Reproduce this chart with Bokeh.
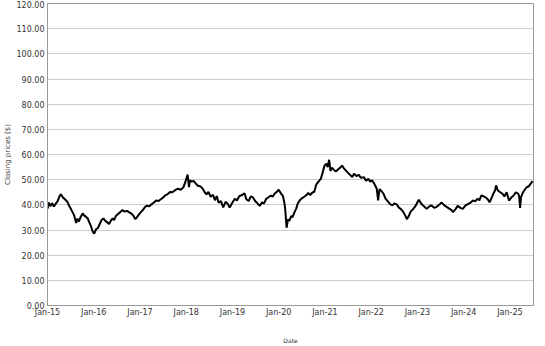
from bokeh.plotting import figure
from bokeh.models import Range1d, FixedTicker, NumeralTickFormatter
from bokeh.embed import file_html
from bokeh.resources import INLINE

# Date as decimal year, closing price ($)
years = [
    2015.00, 2015.03, 2015.06, 2015.10, 2015.14, 2015.18, 2015.22, 2015.26, 2015.29, 2015.33,
    2015.37, 2015.43, 2015.47, 2015.51, 2015.55, 2015.58, 2015.62, 2015.65, 2015.68, 2015.72,
    2015.76, 2015.79, 2015.83, 2015.87, 2015.90, 2015.94, 2015.98, 2016.01, 2016.05, 2016.09,
    2016.13, 2016.17, 2016.21, 2016.25, 2016.29, 2016.33, 2016.37, 2016.41, 2016.44, 2016.48,
    2016.52, 2016.57, 2016.62, 2016.67, 2016.72, 2016.77, 2016.82, 2016.86, 2016.90, 2016.94,
    2016.98, 2017.02, 2017.06, 2017.10, 2017.15, 2017.20, 2017.25, 2017.30, 2017.35, 2017.40,
    2017.45, 2017.50, 2017.55, 2017.60, 2017.65, 2017.70, 2017.76, 2017.82, 2017.88, 2017.94,
    2017.98, 2018.03, 2018.06, 2018.08, 2018.12, 2018.16, 2018.19, 2018.24, 2018.30, 2018.35,
    2018.40, 2018.44, 2018.48, 2018.53, 2018.58, 2018.62, 2018.66, 2018.70, 2018.75, 2018.80,
    2018.85, 2018.90, 2018.94, 2018.99, 2019.05, 2019.10, 2019.15, 2019.21, 2019.26, 2019.30,
    2019.35, 2019.40, 2019.44, 2019.49, 2019.54, 2019.59, 2019.64, 2019.68, 2019.73, 2019.78,
    2019.83, 2019.87, 2019.91, 2019.96, 2020.00, 2020.05, 2020.09, 2020.12, 2020.14, 2020.17,
    2020.20, 2020.23, 2020.27, 2020.30, 2020.34, 2020.38, 2020.41, 2020.46, 2020.50, 2020.55,
    2020.59, 2020.64, 2020.68, 2020.73, 2020.77, 2020.81, 2020.86, 2020.91, 2020.95, 2020.99,
    2021.03, 2021.06, 2021.09, 2021.12, 2021.15, 2021.19, 2021.23, 2021.27, 2021.32, 2021.37,
    2021.41, 2021.46, 2021.50, 2021.55, 2021.59, 2021.63, 2021.68, 2021.73, 2021.78, 2021.84,
    2021.89, 2021.94, 2021.98, 2022.02, 2022.07, 2022.12, 2022.15, 2022.18, 2022.23, 2022.27,
    2022.31, 2022.36, 2022.41, 2022.46, 2022.50, 2022.55, 2022.60, 2022.65, 2022.70, 2022.74,
    2022.77, 2022.81, 2022.85, 2022.91, 2022.96, 2023.03, 2023.08, 2023.13, 2023.20, 2023.25,
    2023.30, 2023.36, 2023.41, 2023.47, 2023.52, 2023.58, 2023.63, 2023.68, 2023.73, 2023.77,
    2023.82, 2023.87, 2023.93, 2023.98, 2024.04, 2024.10, 2024.15, 2024.20, 2024.25, 2024.30,
    2024.34, 2024.38, 2024.43, 2024.47, 2024.52, 2024.56, 2024.60, 2024.64, 2024.68, 2024.70,
    2024.74, 2024.79, 2024.84, 2024.88, 2024.93, 2024.98, 2025.03, 2025.08, 2025.13, 2025.18,
    2025.20, 2025.22, 2025.24, 2025.28, 2025.31, 2025.36, 2025.41, 2025.45, 2025.49,
]
prices = [
    38.4, 40.9, 39.5, 40.6, 39.3, 40.5, 41.5, 43.5, 44.2, 43.0,
    42.3, 41.2, 39.5, 38.2, 36.8, 35.6, 32.8, 34.5, 33.4, 35.3,
    36.6, 35.8, 35.3, 34.6, 33.2, 31.5, 29.3, 28.6, 30.3, 30.8,
    32.4, 34.0, 34.6, 33.6, 33.1, 32.4, 33.7, 34.6, 33.9, 35.6,
    36.3, 37.1, 37.9, 37.3, 37.6, 37.0, 36.4, 35.6, 34.3, 35.2,
    36.2, 37.1, 37.9, 38.9, 39.7, 39.4, 40.2, 40.9, 41.7, 41.5,
    42.2, 42.9, 43.8, 44.3, 45.1, 45.0, 45.8, 46.4, 46.0, 47.0,
    49.0, 52.0, 47.0, 49.8, 49.2, 49.5, 48.8, 47.7, 47.4, 46.6,
    45.0, 44.2, 45.1, 43.2, 44.0, 41.8, 43.5, 40.8, 41.5, 39.0,
    41.2, 40.3, 38.9, 40.6, 42.4, 41.8, 43.5, 43.9, 44.6, 42.2,
    41.5, 43.4, 43.0, 41.5, 40.6, 39.6, 41.0, 40.5, 42.4, 43.0,
    43.7, 43.2, 44.4, 45.2, 46.0, 44.5, 43.6, 41.0, 38.5, 30.9,
    34.2, 33.6, 35.5, 35.1, 37.0, 38.6, 40.4, 41.9, 42.6, 43.2,
    43.7, 44.7, 43.9, 44.9, 45.2, 48.0, 49.2, 50.3, 52.8, 55.5,
    56.4, 55.0, 57.9, 53.5, 54.8, 54.0, 53.3, 53.8, 54.6, 55.6,
    54.5, 53.5, 52.7, 51.8, 51.0, 52.4, 51.4, 51.9, 50.7, 51.0,
    49.6, 50.4, 49.2, 49.8, 48.3, 46.4, 41.8, 46.2, 45.3, 44.3,
    42.5, 41.4, 40.3, 39.8, 40.6, 40.2, 38.9, 38.2, 37.0, 35.6,
    34.3, 35.4, 37.2, 38.4, 39.6, 42.0, 40.5, 39.6, 38.4, 39.3,
    39.8, 38.8, 39.1, 40.0, 41.0, 39.8, 39.2, 38.6, 38.0, 37.1,
    38.2, 39.6, 38.8, 38.4, 39.8, 40.4, 40.9, 41.7, 41.4, 42.4,
    41.8, 43.7, 43.4, 43.0, 42.2, 41.0, 42.6, 44.4, 45.8, 47.7,
    45.7, 45.0, 44.4, 43.3, 45.0, 41.7, 42.9, 43.7, 45.0, 44.4,
    43.5, 38.8, 43.0, 44.9, 45.7, 47.0, 47.4, 48.4, 49.4,
]

tick_years = [2015, 2016, 2017, 2018, 2019, 2020, 2021, 2022, 2023, 2024, 2025]
tick_labels = ["Jan-15", "Jan-16", "Jan-17", "Jan-18", "Jan-19", "Jan-20",
               "Jan-21", "Jan-22", "Jan-23", "Jan-24", "Jan-25"]
y_ticks = [0, 10, 20, 30, 40, 50, 60, 70, 80, 90, 100, 110, 120]

FONT = "DejaVu Sans"

p = figure(width=545, height=346, output_backend="svg", toolbar_location=None,
           x_range=Range1d(2015.0, 2025.51), y_range=Range1d(0, 120),
           min_border_left=43, min_border_right=12, min_border_top=3, min_border_bottom=41)

p.line(years, prices, line_color="black", line_width=2)

p.outline_line_color = "#999999"
p.outline_line_width = 1

p.xaxis.ticker = FixedTicker(ticks=tick_years)
p.xaxis.major_label_overrides = {t: l for t, l in zip(tick_years, tick_labels)}
p.yaxis.ticker = FixedTicker(ticks=y_ticks)
p.yaxis.formatter = NumeralTickFormatter(format="0.00")

for ax in (p.xaxis[0], p.yaxis[0]):
    ax.axis_line_color = "#999999"
    ax.major_tick_line_color = None
    ax.minor_tick_line_color = None
    ax.major_tick_out = 0
    ax.major_tick_in = 0
    ax.minor_tick_out = 0
    ax.minor_tick_in = 0
    ax.major_label_text_font = FONT
    ax.major_label_text_font_size = "8px"
    ax.major_label_text_color = "#333333"
    ax.axis_label_text_font = FONT
    ax.axis_label_text_font_style = "normal"
    ax.axis_label_text_color = "#333333"

p.xaxis.axis_label = "Date"
p.xaxis.axis_label_text_font_size = "6px"
p.xaxis.axis_label_standoff = 17
p.xaxis.major_label_standoff = 2

p.yaxis.axis_label = "Closing prices ($)"
p.yaxis.axis_label_text_font_size = "7px"
p.yaxis.axis_label_standoff = 2
p.yaxis.major_label_standoff = 3

p.xgrid.grid_line_color = None
p.ygrid.grid_line_color = "#cccccc"
p.ygrid.grid_line_width = 1

open("out.html", "w").write(file_html(p, INLINE))
